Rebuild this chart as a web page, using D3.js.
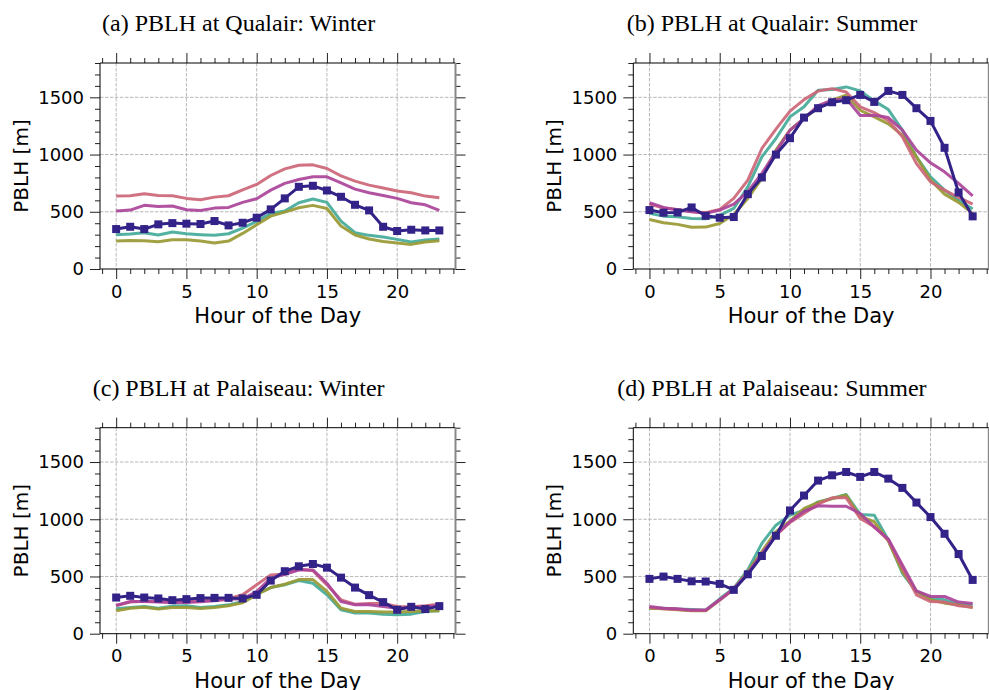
<!DOCTYPE html>
<html>
<head>
<meta charset="utf-8">
<script src="https://cdn.jsdelivr.net/npm/d3@7"></script>
<style>
	body { margin: 0; background: #fff; }
	svg { display: block; }
</style>
</head>
<body>
<svg id="chart" width="989" height="690"></svg>
<script>
// Hour of the day (x categories)
const hours = [0, 1, 2, 3, 4, 5, 6, 7, 8, 9, 10, 11, 12, 13, 14, 15, 16, 17, 18, 19, 20, 21, 22, 23];

// Tick labels
const xMajorTicks = [0, 5, 10, 15, 20];
const yMajorTicks = [0, 500, 1000, 1500];

// (a) Qualair winter
const qwNavy = [349, 369, 349, 390, 401, 396, 393, 419, 381, 404, 448, 521, 617, 718, 727, 686, 631, 561, 512, 369, 332, 343, 337, 337];
const qwPink = [637, 640, 657, 643, 640, 617, 605, 628, 640, 692, 739, 817, 875, 907, 910, 878, 814, 768, 733, 707, 681, 666, 637, 622];
const qwMagenta = [506, 515, 556, 547, 550, 518, 512, 532, 538, 582, 614, 689, 748, 782, 806, 806, 753, 698, 666, 643, 617, 579, 561, 512];
const qwTeal = [300, 305, 317, 297, 323, 308, 300, 294, 308, 358, 416, 486, 506, 579, 611, 582, 419, 317, 294, 279, 259, 236, 253, 262];
const qwOlive = [244, 250, 247, 239, 256, 256, 244, 227, 244, 311, 387, 462, 497, 535, 556, 529, 375, 297, 262, 241, 227, 215, 236, 247];

// (b) Qualair summer
const qsNavy = [515, 492, 494, 538, 465, 448, 454, 654, 800, 1000, 1143, 1323, 1405, 1457, 1475, 1521, 1460, 1556, 1521, 1405, 1294, 1059, 669, 460];
const qsPink = [567, 532, 521, 503, 492, 521, 617, 777, 1053, 1222, 1379, 1480, 1556, 1576, 1547, 1417, 1367, 1297, 1155, 922, 762, 689, 625, 567];
const qsMagenta = [579, 538, 515, 500, 486, 515, 567, 675, 835, 1024, 1213, 1317, 1428, 1475, 1489, 1341, 1344, 1323, 1213, 1038, 928, 849, 748, 640];
const qsTeal = [486, 462, 457, 442, 439, 468, 529, 718, 980, 1140, 1329, 1417, 1562, 1568, 1591, 1556, 1469, 1393, 1213, 980, 806, 689, 602, 524];
const qsOlive = [433, 404, 390, 364, 366, 398, 477, 617, 791, 1038, 1213, 1315, 1411, 1475, 1518, 1387, 1329, 1268, 1170, 980, 777, 654, 582, 486];

// (c) Palaiseau winter
const pwNavy = [316, 331, 316, 308, 293, 302, 311, 313, 313, 308, 340, 464, 546, 589, 609, 577, 490, 403, 337, 276, 209, 235, 215, 241];
const pwPink = [247, 276, 284, 281, 276, 281, 290, 293, 305, 340, 427, 514, 519, 566, 551, 427, 296, 258, 264, 264, 238, 235, 244, 258];
const pwMagenta = [247, 281, 281, 276, 273, 273, 279, 287, 302, 305, 369, 485, 519, 557, 557, 441, 281, 252, 252, 238, 223, 229, 235, 247];
const pwTeal = [218, 229, 238, 223, 241, 244, 229, 238, 252, 281, 348, 403, 427, 464, 441, 340, 209, 180, 180, 171, 165, 171, 194, 200];
const pwOlive = [200, 223, 232, 215, 229, 229, 221, 229, 244, 270, 340, 403, 432, 473, 473, 369, 223, 194, 194, 189, 189, 194, 200, 200];

// (d) Palaiseau summer
const psNavy = [479, 499, 479, 458, 456, 435, 383, 519, 679, 856, 1077, 1207, 1338, 1384, 1413, 1370, 1413, 1355, 1274, 1146, 1019, 873, 696, 470];
const psPink = [229, 218, 212, 203, 203, 296, 389, 528, 688, 862, 972, 1050, 1132, 1187, 1187, 1007, 934, 818, 572, 340, 281, 276, 244, 232];
const psMagenta = [238, 223, 218, 206, 206, 296, 392, 528, 702, 862, 978, 1070, 1117, 1114, 1114, 1050, 931, 827, 601, 374, 325, 325, 276, 264];
const psTeal = [223, 223, 215, 212, 206, 305, 398, 557, 789, 948, 1036, 1079, 1152, 1181, 1216, 1042, 1036, 818, 528, 369, 311, 296, 258, 252];
const psOlive = [223, 218, 209, 200, 200, 293, 392, 543, 717, 891, 984, 1094, 1146, 1181, 1210, 1022, 978, 810, 543, 369, 296, 267, 252, 229];

const colors = { navy: '#332288', pink: '#CC6677', magenta: '#AA4499', teal: '#44AA99', olive: '#999933' };

const panels = [
	{ title: '(a) PBLH at Qualair: Winter', left: 100, top: 63,
		series: { teal: qwTeal, olive: qwOlive, pink: qwPink, magenta: qwMagenta, navy: qwNavy } },
	{ title: '(b) PBLH at Qualair: Summer', left: 633.3, top: 63,
		series: { teal: qsTeal, olive: qsOlive, pink: qsPink, magenta: qsMagenta, navy: qsNavy } },
	{ title: '(c) PBLH at Palaiseau: Winter', left: 100, top: 427.7,
		series: { teal: pwTeal, olive: pwOlive, pink: pwPink, magenta: pwMagenta, navy: pwNavy } },
	{ title: '(d) PBLH at Palaiseau: Summer', left: 633.3, top: 427.7,
		series: { teal: psTeal, olive: psOlive, pink: psPink, magenta: psMagenta, navy: psNavy } }
];

const width = 355.5, height = 206;
const svg = d3.select('#chart');

// minor ticks: every hour, every 100 m
const xMinorTicks = [-1].concat(hours, [24]).filter(d => xMajorTicks.indexOf(d) < 0);
const yMinorTicks = d3.range(100, 1801, 100).filter(d => yMajorTicks.indexOf(d) < 0);

panels.forEach(function(p){
	const x = d3.scaleLinear().domain([-1.15, 24.15]).range([0, width]);
	const y = d3.scaleLinear().domain([0, 1800]).range([height, 0]);

	const g = svg.append('g').attr('transform', `translate(${p.left},${p.top})`);

	// grid
	g.append('g').selectAll('line').data(xMajorTicks).join('line')
		.attr('x1', d => x(d)).attr('x2', d => x(d)).attr('y1', 0).attr('y2', height)
		.attr('stroke', '#b0b0b0').attr('stroke-dasharray', '3.5,1.5').attr('stroke-width', 0.9);
	g.append('g').selectAll('line').data(yMajorTicks.slice(1)).join('line')
		.attr('x1', 0).attr('x2', width).attr('y1', d => y(d)).attr('y2', d => y(d))
		.attr('stroke', '#b0b0b0').attr('stroke-dasharray', '3.5,1.5').attr('stroke-width', 0.9);

	// the lines
	const line = d3.line().x((d, i) => x(hours[i])).y(d => y(d));
	Object.keys(p.series).forEach(function(k){
		g.append('path').datum(p.series[k])
			.attr('fill', 'none')
			.attr('stroke', colors[k])
			.attr('stroke-width', 3)
			.attr('stroke-opacity', k === 'navy' ? 1 : 0.92)
			.attr('stroke-linejoin', 'round')
			.attr('d', line);
	});
	// square markers on the navy series
	g.append('g').selectAll('rect').data(p.series.navy).join('rect')
		.attr('x', (d, i) => x(hours[i]) - 4).attr('y', d => y(d) - 4)
		.attr('width', 8).attr('height', 8)
		.attr('fill', colors.navy);

	// axes: majors + minors on all four sides
	const addAxis = function(axis, tr, cls){
		const a = g.append('g').attr('class', cls).attr('transform', tr).call(axis);
		a.selectAll('.domain').remove();
		a.selectAll('.tick line').attr('stroke', '#222').attr('stroke-width', 1);
		a.selectAll('.tick text').attr('font-family', 'DejaVu Sans').attr('font-size', 18).attr('fill', '#000');
		return a;
	};
	addAxis(d3.axisLeft(y).tickValues(yMajorTicks).tickSize(10).tickPadding(6).tickFormat(d3.format('d')), null, 'y axis');
	addAxis(d3.axisLeft(y).tickValues(yMinorTicks).tickSize(5).tickFormat(''), null, 'y minor');
	addAxis(d3.axisRight(y).tickValues(yMajorTicks).tickSize(10).tickFormat(''), `translate(${width},0)`, 'y2');
	addAxis(d3.axisRight(y).tickValues(yMinorTicks).tickSize(5).tickFormat(''), `translate(${width},0)`, 'y2 minor');
	addAxis(d3.axisBottom(x).tickValues(xMajorTicks).tickSize(10).tickPadding(6).tickFormat(d3.format('d')), `translate(0,${height})`, 'x axis');
	addAxis(d3.axisBottom(x).tickValues(xMinorTicks).tickSize(5).tickFormat(''), `translate(0,${height})`, 'x minor');
	addAxis(d3.axisTop(x).tickValues(xMajorTicks).tickSize(10).tickFormat(''), null, 'x2');
	addAxis(d3.axisTop(x).tickValues(xMinorTicks).tickSize(5).tickFormat(''), null, 'x2 minor');

	// spines (right one is grey in the original)
	g.append('line').attr('x1', 0).attr('x2', 0).attr('y1', 0).attr('y2', height).attr('stroke', '#000');
	g.append('line').attr('x1', 0).attr('x2', width).attr('y1', 0).attr('y2', 0).attr('stroke', '#000');
	g.append('line').attr('x1', 0).attr('x2', width).attr('y1', height).attr('y2', height).attr('stroke', '#000');
	g.append('line').attr('x1', width).attr('x2', width).attr('y1', 0).attr('y2', height).attr('stroke', '#888').attr('stroke-width', 2);

	// labels
	g.append('text')
		.attr('x', width / 2).attr('y', height + 54)
		.attr('text-anchor', 'middle')
		.attr('font-family', 'DejaVu Sans').attr('font-size', 21)
		.text('Hour of the Day');
	g.append('text')
		.attr('transform', `translate(-72,${height / 2}) rotate(-90)`)
		.attr('text-anchor', 'middle')
		.attr('font-family', 'DejaVu Sans').attr('font-size', 20)
		.text('PBLH [m]');
	g.append('text')
		.attr('x', width * 0.39).attr('y', -32)
		.attr('text-anchor', 'middle')
		.attr('font-family', 'Liberation Serif').attr('font-size', 24)
		.text(p.title);
});
</script>
</body>
</html>
